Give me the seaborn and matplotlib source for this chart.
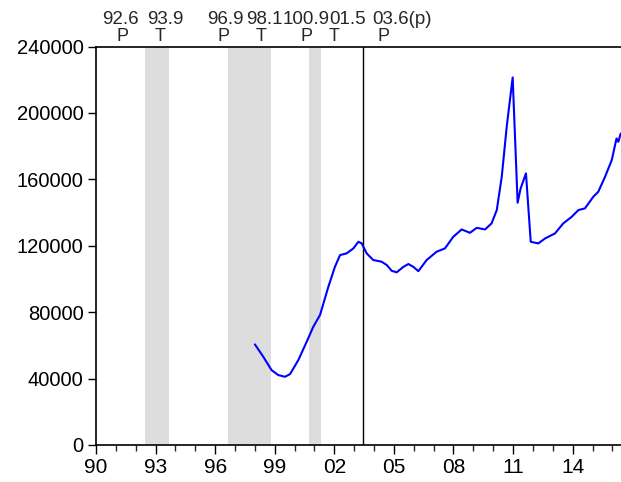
import matplotlib
matplotlib.use("Agg")
import matplotlib.pyplot as plt
from matplotlib.ticker import FixedLocator, MultipleLocator, FuncFormatter
import seaborn as sns
import pandas as pd

# Series (decimal year, value)
years = [1998.00, 1998.42, 1998.84, 1999.18, 1999.52, 1999.77, 2000.19, 2000.61,
         2000.94, 2001.28, 2001.70, 2002.03, 2002.29, 2002.62, 2002.96, 2003.21,
         2003.38, 2003.63, 2003.96, 2004.38, 2004.64, 2004.89, 2005.14, 2005.48,
         2005.73, 2005.98, 2006.23, 2006.65, 2007.15, 2007.57, 2007.99, 2008.41,
         2008.83, 2009.17, 2009.59, 2009.92, 2010.18, 2010.43, 2010.68, 2010.98,
         2011.23, 2011.38, 2011.65, 2011.89, 2012.27, 2012.61, 2013.11, 2013.53,
         2013.95, 2014.29, 2014.62, 2015.04, 2015.29, 2015.63, 2015.97, 2016.08,
         2016.21, 2016.30, 2016.42]
values = [60600, 53200, 45100, 42100, 41100, 42700, 51200, 62200,
          71200, 78300, 95300, 107300, 114400, 115400, 118400, 122400,
          121400, 115400, 111400, 110400, 108400, 104900, 104000, 107300,
          109000, 107300, 104700, 111400, 116400, 118400, 125400, 129800,
          127800, 130800, 129800, 133500, 141500, 161500, 191600, 221400,
          145900, 154500, 163600, 122400, 121400, 124400, 127400, 133500,
          137400, 141500, 142500, 149500, 152500, 161500, 171600, 177600,
          184600, 182600, 187600]

# Shaded periods (start, end) and the marker line
shade_start = [1992.48, 1996.67, 2000.71]
shade_end = [1993.70, 1998.81, 2001.35]
vline_at = 2003.42

# Labels above the plot
date_labels = ["92.6", "93.9", "96.9", "98.1", "100.9", "01.5", "03.6(p)"]
date_label_x = [1991.22, 1993.47, 1996.51, 1998.48, 2000.59, 2002.69, 2005.43]
phase_labels = ["P", "T", "P", "T", "P", "T", "P"]
phase_label_x = [1991.31, 1993.24, 1996.41, 1998.29, 2000.58, 2001.97, 2004.49]

# Axis ticks
x_ticks = [1990, 1993, 1996, 1999, 2002, 2005, 2008, 2011, 2014]
y_ticks = [0, 40000, 80000, 120000, 160000, 200000, 240000]

df = pd.DataFrame({"year": years, "value": values})

sns.set_theme(style="white")
plt.rcParams["font.family"] = ["Liberation Sans", "DejaVu Sans"]

fig = plt.figure(figsize=(6.21, 4.82), dpi=100)
ax = fig.add_axes([96 / 621, 37 / 482, 525 / 621, 398.5 / 482])

for s, e in zip(shade_start, shade_end):
    ax.axvspan(s, e, color="#dddddd", lw=0, zorder=0)
ax.axvline(vline_at, color="black", lw=1, zorder=1)

sns.lineplot(data=df, x="year", y="value", color="#0000ff", lw=1.5,
             estimator=None, sort=False, ax=ax, zorder=2)

ax.set_xlim(1990, 1990 + 525 / 19.86)
ax.set_ylim(0, 240000)
ax.set_xlabel("")
ax.set_ylabel("")

ax.xaxis.set_major_locator(FixedLocator(x_ticks))
ax.xaxis.set_minor_locator(MultipleLocator(1))
ax.xaxis.set_major_formatter(FuncFormatter(lambda v, p: f"{int(round(v)) % 100:02d}"))
ax.yaxis.set_major_locator(FixedLocator(y_ticks))
ax.yaxis.set_major_formatter(FuncFormatter(lambda v, p: f"{int(v)}"))

ax.tick_params(axis="x", which="major", direction="out", length=6.5, width=1,
               labelsize=15, pad=3, bottom=True, colors="black")
ax.tick_params(axis="x", which="minor", direction="out", length=4, width=1, bottom=True)
ax.tick_params(axis="y", which="major", direction="out", length=6, width=1,
               labelsize=14.5, pad=3, left=True, colors="black")

for side in ["left", "bottom", "top"]:
    ax.spines[side].set_color("black")
    ax.spines[side].set_linewidth(1.2)
ax.spines["right"].set_visible(False)

trans = ax.get_xaxis_transform()
for x, lab in zip(date_label_x, date_labels):
    ax.text(x, 1.069, lab, transform=trans, ha="center", va="center",
            fontsize=13.5, clip_on=False)
for x, lab in zip(phase_label_x, phase_labels):
    ax.text(x, 1.025, lab, transform=trans, ha="center", va="center",
            fontsize=13, clip_on=False)

fig.savefig("out.png", dpi=100)
